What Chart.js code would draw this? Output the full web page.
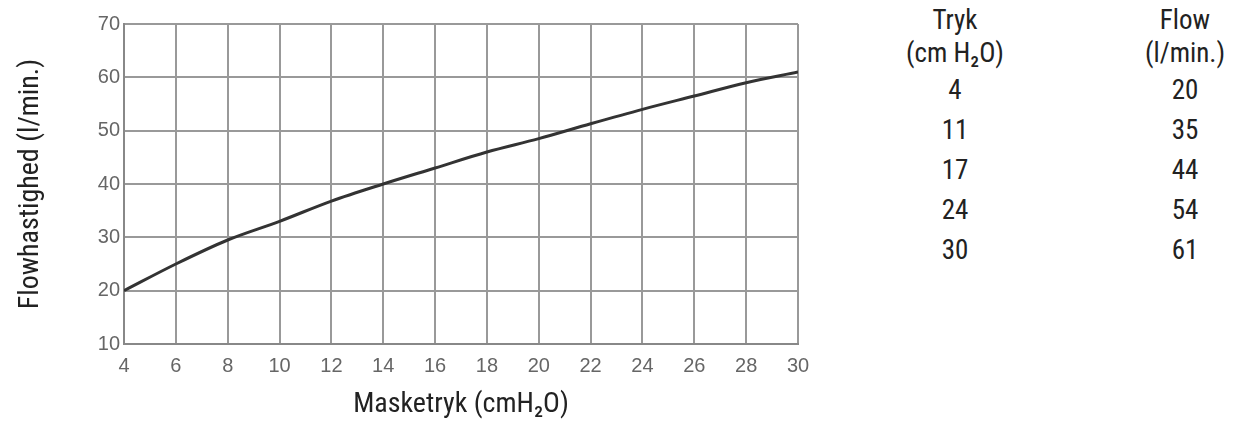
<!DOCTYPE html>
<html><head><meta charset="utf-8">
<script src="https://cdn.jsdelivr.net/npm/chart.js@4"></script>
<style>
body{margin:0;background:#fff;width:1243px;height:426px;overflow:hidden;position:relative;font-family:"Liberation Sans Narrow","Roboto Condensed",Roboto,sans-serif;}
#wrap{position:absolute;left:0;top:0;width:840px;height:426px;}
.col{position:absolute;top:4px;text-align:center;font-size:27px;line-height:40px;color:#222;}
.col div{white-space:nowrap}
.hdr{line-height:33px}
</style></head><body>
<div id="wrap"><canvas id="c"></canvas></div>
<div class="col" style="left:880px;width:150px" id="t1"></div>
<div class="col" style="left:1110px;width:150px" id="t2"></div>
<script>
const pressure=[4,6,8,10,12,14,16,18,20,22,24,26,28,30];
const flow=[20,25,29.5,33,36.8,40,43,46,48.5,51.3,54,56.5,59,61];
const tablePressure=[4,11,17,24,30];
const tableFlow=[20,35,44,54,61];
const xTitle='Masketryk (cmH\u2082O)';
const yTitle='Flowhastighed (l/min.)';

const t1=document.getElementById('t1'),t2=document.getElementById('t2');
t1.innerHTML='<div class="hdr">Tryk</div><div class="hdr">(cm H\u2082O)</div>'+tablePressure.map(v=>'<div>'+v+'</div>').join('');
t2.innerHTML='<div class="hdr">Flow</div><div class="hdr">(l/min.)</div>'+tableFlow.map(v=>'<div>'+v+'</div>').join('');

const F='"Liberation Sans Narrow","Roboto Condensed",Roboto,sans-serif';
const TF='"Liberation Sans","DejaVu Sans",sans-serif';
new Chart(document.getElementById('c'),{
 type:'line',
 data:{datasets:[{data:pressure.map((x,i)=>({x,y:flow[i]})),borderColor:'#333',borderWidth:3,pointRadius:0,cubicInterpolationMode:'monotone',fill:false}]},
 options:{responsive:true,maintainAspectRatio:false,animation:false,
  layout:{padding:{top:24,right:42,left:0,bottom:0}},
  plugins:{legend:{display:false},tooltip:{enabled:false}},
  scales:{
   x:{type:'linear',min:4,max:30,
     ticks:{stepSize:2,color:'#666',font:{family:TF,size:20},padding:10},
     grid:{color:'#999',lineWidth:2,drawTicks:false},border:{color:'#888',width:2},
     title:{display:true,text:xTitle,color:'#222',font:{family:F,size:28},padding:{top:0}},
     afterFit:s=>{s.height=82;}},
   y:{min:10,max:70,
     ticks:{stepSize:10,color:'#666',font:{family:TF,size:20},padding:4},
     grid:{color:'#999',lineWidth:2,drawTicks:false},border:{color:'#888',width:2},
     title:{display:true,text:yTitle,color:'#222',font:{family:F,size:28},padding:{top:14,bottom:4}},
     afterFit:s=>{s.width=124;}}
  }}
});
</script></body></html>
